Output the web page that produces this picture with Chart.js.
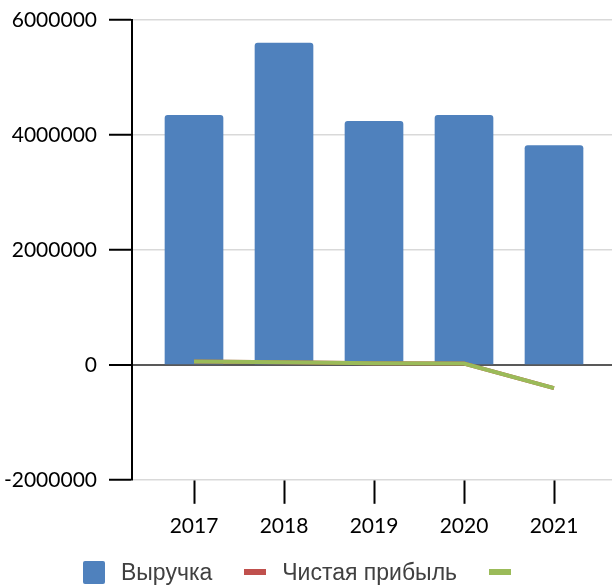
<!DOCTYPE html>
<html>
<head>
<meta charset="utf-8">
<script src="https://cdn.jsdelivr.net/npm/chart.js@4/dist/chart.umd.min.js"></script>
<style>
  html, body { margin: 0; padding: 0; background: #fff; }
  #wrap { position: relative; width: 612px; height: 586px; }
  #legend { position: absolute; left: 83px; top: 560px; display: flex; align-items: center;
            font-family: "Liberation Sans", Arial, sans-serif; font-size: 23px; color: #404040; height: 24px; }
  .item { display: flex; align-items: center; margin-right: 32px; }
  .mk { display: inline-block; margin-right: 16px; }
</style>
</head>
<body>
<div id="wrap">
  <canvas id="c" width="612" height="586"></canvas>
  <div id="legend"></div>
</div>
<script>
const categories = ['2017', '2018', '2019', '2020', '2021'];
const revenue = [4340000, 5600000, 4235000, 4340000, 3815000];
const netProfit = [57000, 45000, 28000, 22000, -405000];
const thirdSeries = [57000, 45000, 28000, 22000, -405000];
const yTicks = [-2000000, 0, 2000000, 4000000, 6000000];
const seriesNames = ['Выручка', 'Чистая прибыль', ''];
const seriesColors = ['#4f81bd', '#c0504d', '#9bbb59'];

const toXY = arr => arr.map((v, i) => ({ x: i, y: v }));

const chart = new Chart(document.getElementById('c'), {
  type: 'bar',
  data: {
    datasets: [
      { type: 'bar', label: seriesNames[0], data: toXY(revenue), backgroundColor: seriesColors[0],
        barThickness: 58, borderRadius: { topLeft: 3, topRight: 3, bottomLeft: 0, bottomRight: 0 },
        borderSkipped: 'start', order: 3 },
      { type: 'line', label: seriesNames[1], data: toXY(netProfit), borderColor: seriesColors[1],
        backgroundColor: seriesColors[1], borderWidth: 4, pointRadius: 0, tension: 0, order: 2 },
      { type: 'line', label: seriesNames[2], data: toXY(thirdSeries), borderColor: seriesColors[2],
        backgroundColor: seriesColors[2], borderWidth: 4, pointRadius: 0, tension: 0, order: 1 }
    ]
  },
  options: {
    responsive: false,
    animation: false,
    layout: { padding: { top: 0, right: 0, bottom: 37, left: 0 } },
    plugins: { legend: { display: false }, tooltip: { enabled: false } },
    scales: {
      x: {
        type: 'linear',
        min: -0.6889,
        max: 4.6444,
        offset: false,
        afterBuildTicks: s => { s.ticks = categories.map((c, i) => ({ value: i })); },
        ticks: {
          callback: v => categories[v],
          font: { family: 'Lato', size: 21 },
          color: '#000',
          padding: 10,
          maxRotation: 0,
          autoSkip: false
        },
        grid: { offset: false, drawOnChartArea: false, drawTicks: true, tickLength: 24, tickColor: '#000', tickWidth: 2 },
        border: { display: false }
      },
      y: {
        min: yTicks[0],
        max: yTicks[yTicks.length - 1],
        afterBuildTicks: s => { s.ticks = yTicks.map(v => ({ value: v })); },
        afterFit: s => { s.width = 132; s.paddingTop = 20; s.paddingBottom = 12; },
        ticks: {
          callback: v => String(v),
          font: { family: 'Lato', size: 21 },
          color: '#000',
          padding: 12
        },
        grid: {
          color: c => (c.tick && c.tick.value === 0) ? '#595959' : '#d9d9d9',
          lineWidth: c => (c.tick && c.tick.value === 0) ? 2 : 1.5,
          tickColor: '#000', tickWidth: 2, tickLength: 23
        },
        border: { display: true, color: '#000', width: 2 }
      }
    }
  }
});

const lg = document.getElementById('legend');
seriesNames.forEach((name, i) => {
  const it = document.createElement('span');
  it.className = 'item';
  const mk = document.createElement('span');
  mk.className = 'mk';
  mk.style.background = seriesColors[i];
  if (i === 0) { mk.style.width = '22px'; mk.style.height = '23px'; mk.style.borderRadius = '2px'; }
  else { mk.style.width = '22px'; mk.style.height = '6px'; }
  it.appendChild(mk);
  if (name) { const t = document.createElement('span'); t.textContent = name; it.appendChild(t); }
  lg.appendChild(it);
});
</script>
</body>
</html>
